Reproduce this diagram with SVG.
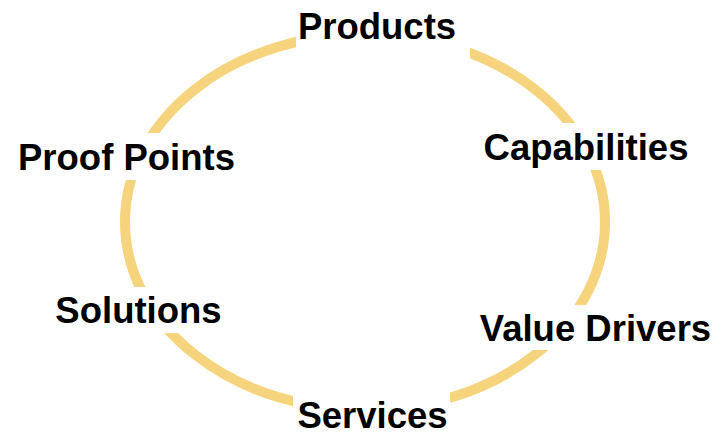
<svg xmlns="http://www.w3.org/2000/svg" width="718" height="433" viewBox="0 0 718 433">
<style>
.ring{fill:none;stroke:#F6D47E;stroke-width:10}
.bg{fill:#FFFFFF}
.lbl{font-family:"Liberation Sans",Arial,sans-serif;font-weight:bold;font-size:36.5px;fill:#000000;text-anchor:middle}
</style>
<rect width="718" height="433" fill="#FFFFFF"/>
<g id="connectors">
<ellipse class="ring" cx="365" cy="222" rx="240" ry="188"/>
</g>
<g id="products">
<rect class="bg" x="296" y="0" width="174" height="62"/>
<text class="lbl" x="377" y="39">Products</text>
</g>
<g id="capabilities">
<rect class="bg" x="478" y="123" width="220" height="47"/>
<text class="lbl" x="586" y="160">Capabilities</text>
</g>
<g id="proof-points">
<rect class="bg" x="10" y="133" width="236" height="47"/>
<text class="lbl" x="126.5" y="170">Proof Points</text>
</g>
<g id="solutions">
<rect class="bg" x="48" y="287" width="180" height="46"/>
<text class="lbl" x="138.5" y="323">Solutions</text>
</g>
<g id="value-drivers">
<rect class="bg" x="470" y="305" width="248" height="45"/>
<text class="lbl" x="595.5" y="341">Value Drivers</text>
</g>
<g id="services">
<rect class="bg" x="293" y="385" width="157" height="48"/>
<text class="lbl" x="372.5" y="428">Services</text>
</g>
</svg>
